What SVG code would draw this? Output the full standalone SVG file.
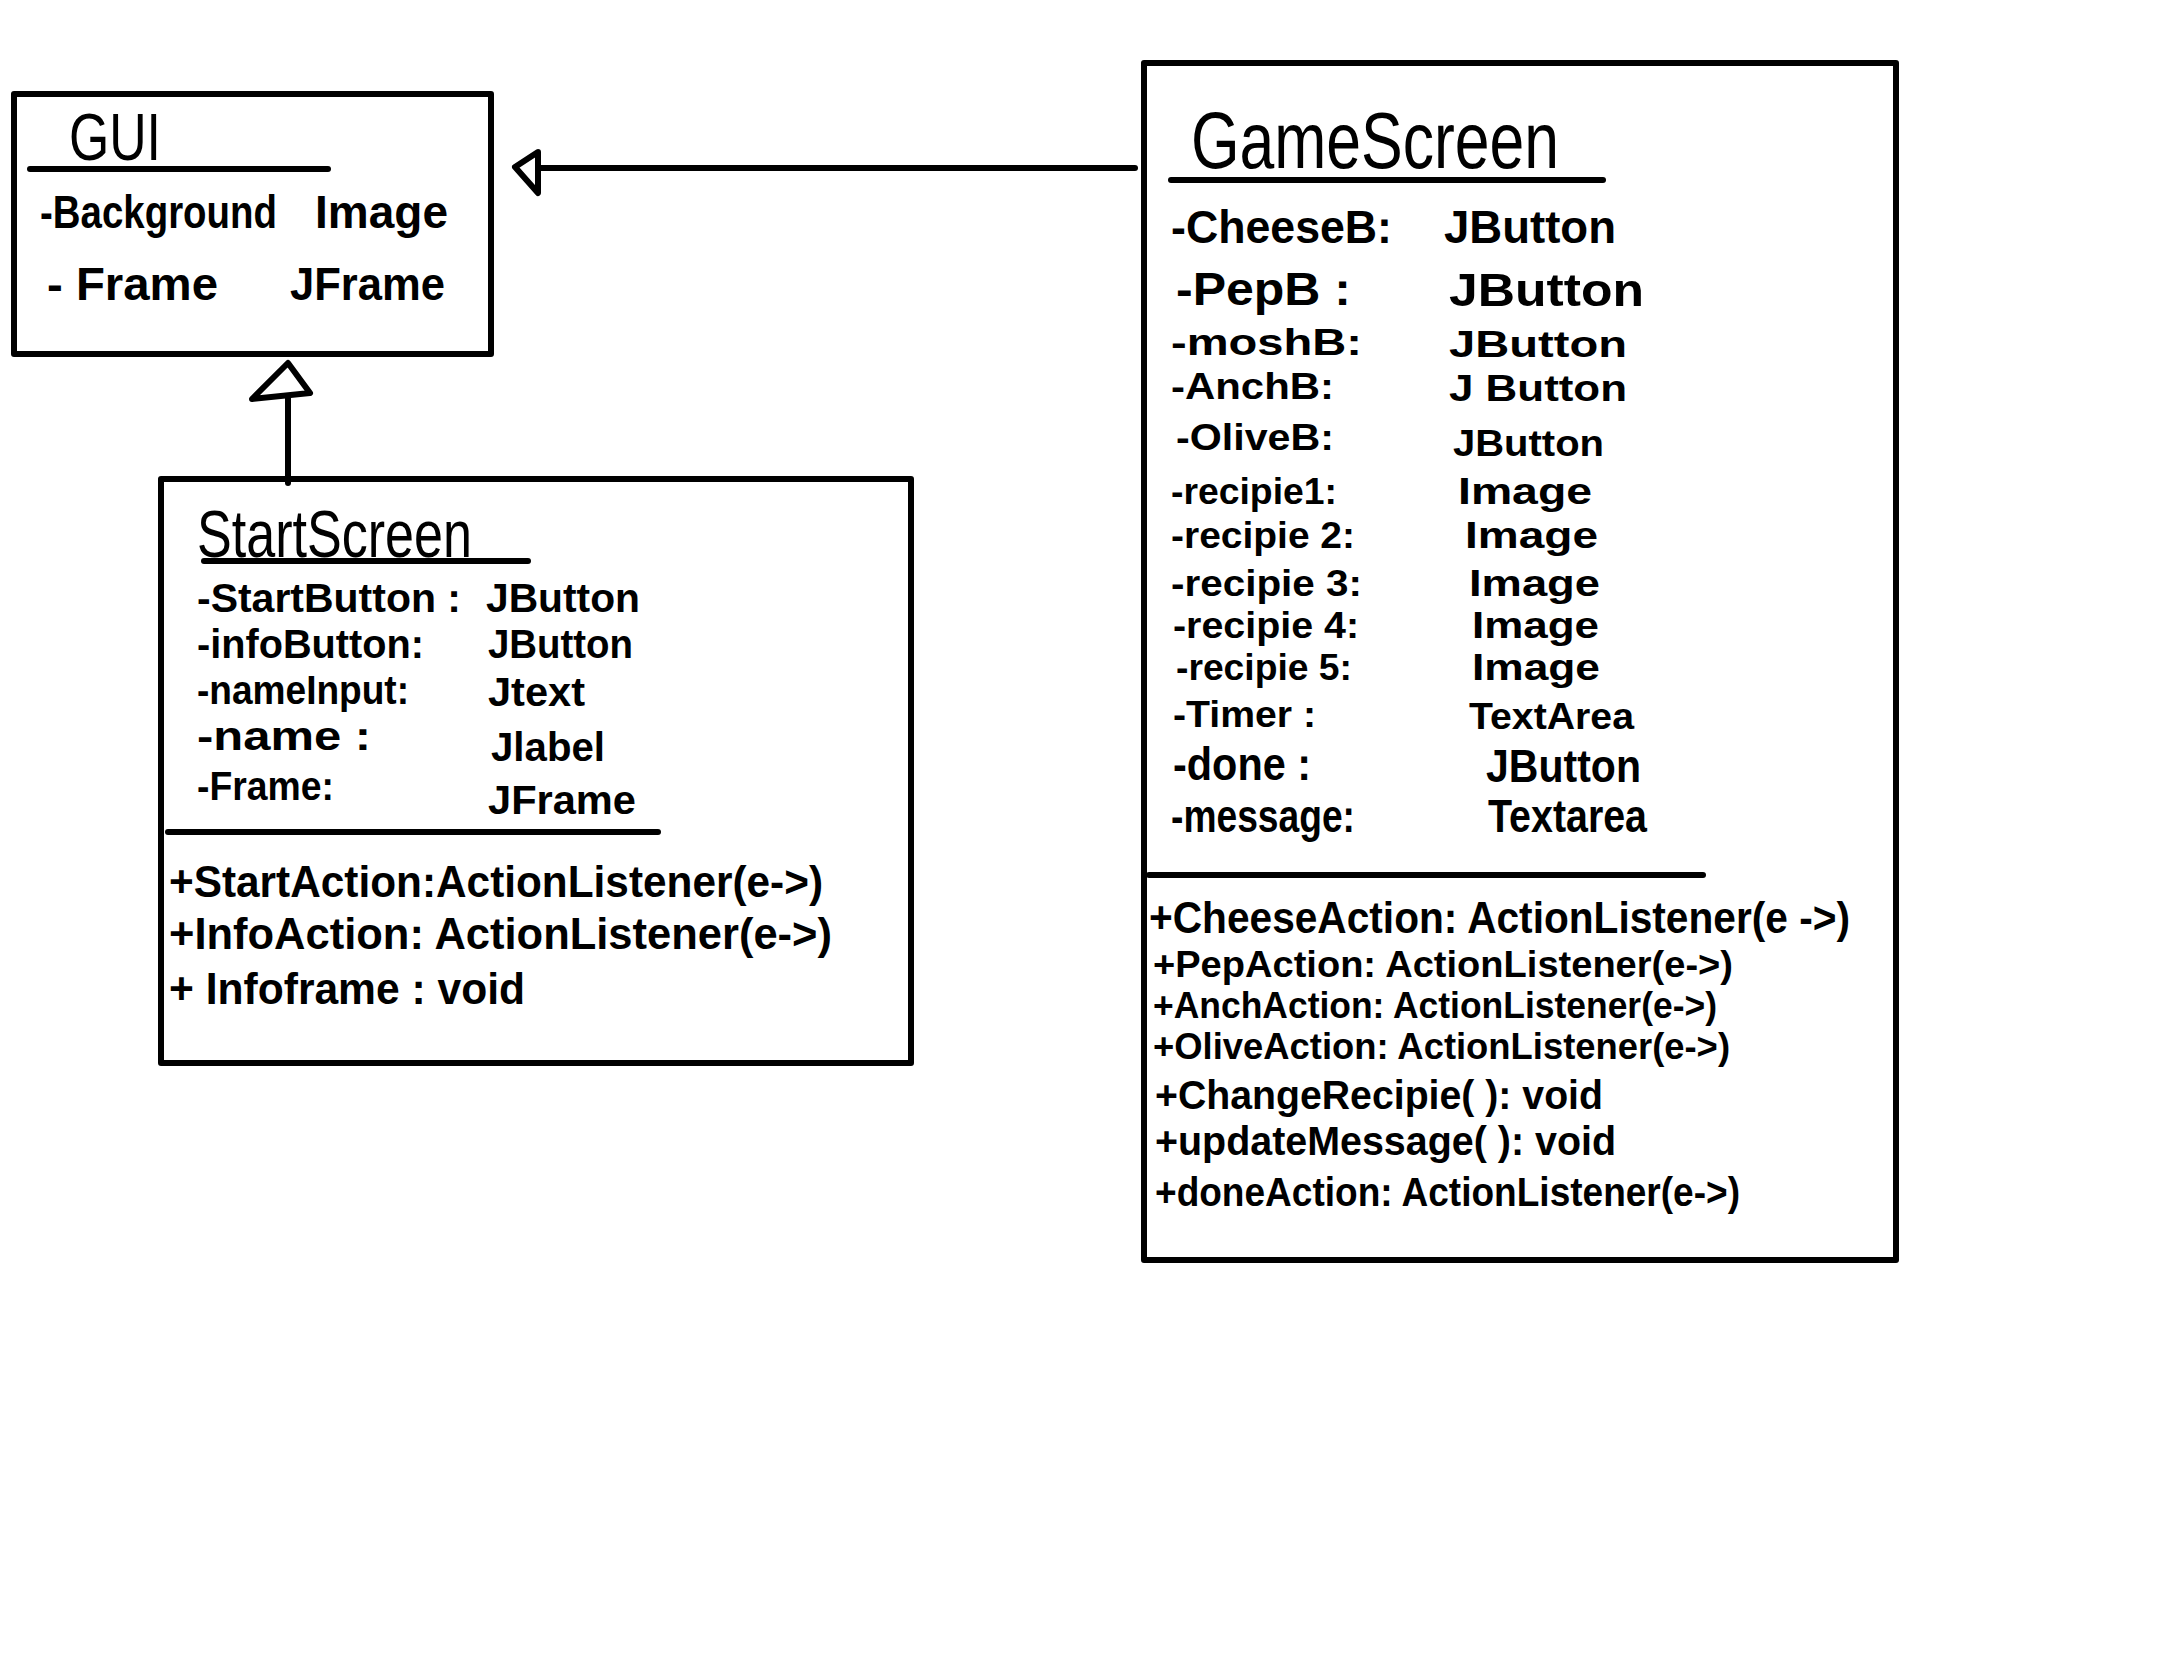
<svg xmlns="http://www.w3.org/2000/svg" width="2157" height="1668" viewBox="0 0 2157 1668">
<style>
.box{fill:none;stroke:#000;stroke-width:6;stroke-linejoin:round}
.rule{stroke:#000;stroke-width:6;stroke-linecap:round}
.conn{fill:none;stroke:#000;stroke-width:6;stroke-linecap:round;stroke-linejoin:round}
text{font-family:"Liberation Sans","DejaVu Sans",sans-serif;font-weight:bold;fill:#000}
.title{font-weight:normal;font-size:66px}
.a{font-size:46px}
.g{font-size:36px}
.m{font-size:36px}
.sa{font-size:40px}
.sm{font-size:44px}
</style>
<rect width="2157" height="1668" fill="#fff"/>
<g id="connectors">
<path class="conn" d="M1135 168 L538 168"/>
<path class="conn" d="M538 152 L515 167 L538 193 Z"/>
<path class="conn" d="M288 483 L288 396"/>
<path class="conn" d="M252 399 L288 363 L310 393 Z"/>
</g>
<g id="GUI">
<rect class="box" x="14" y="94" width="477" height="260"/>
<text class="title" x="69" y="160" textLength="92" lengthAdjust="spacingAndGlyphs">GUI</text>
<line class="rule" x1="30" y1="169" x2="328" y2="169"/>
<text class="a" x="40" y="228" textLength="237" lengthAdjust="spacingAndGlyphs">-Background</text>
<text class="a" x="315" y="228" textLength="133" lengthAdjust="spacingAndGlyphs">Image</text>
<text class="a" x="47" y="300" textLength="171" lengthAdjust="spacingAndGlyphs">- Frame</text>
<text class="a" x="290" y="300" textLength="155" lengthAdjust="spacingAndGlyphs">JFrame</text>
</g>
<g id="StartScreen">
<rect class="box" x="161" y="479" width="750" height="584"/>
<text class="title" x="197" y="557" textLength="275" lengthAdjust="spacingAndGlyphs">StartScreen</text>
<line class="rule" x1="204" y1="561" x2="528" y2="561"/>
<text class="sa" x="197" y="612" textLength="264" lengthAdjust="spacingAndGlyphs">-StartButton :</text>
<text class="sa" x="486" y="612" textLength="154" lengthAdjust="spacingAndGlyphs">JButton</text>
<text class="sa" x="197" y="658" textLength="227" lengthAdjust="spacingAndGlyphs">-infoButton:</text>
<text class="sa" x="488" y="658" textLength="145" lengthAdjust="spacingAndGlyphs">JButton</text>
<text class="sa" x="197" y="704" textLength="212" lengthAdjust="spacingAndGlyphs">-nameInput:</text>
<text class="sa" x="488" y="706" textLength="97" lengthAdjust="spacingAndGlyphs">Jtext</text>
<text class="sa" x="197" y="750" textLength="174" lengthAdjust="spacingAndGlyphs">-name  :</text>
<text class="sa" x="491" y="761" textLength="114" lengthAdjust="spacingAndGlyphs">Jlabel</text>
<text class="sa" x="197" y="800" textLength="137" lengthAdjust="spacingAndGlyphs">-Frame:</text>
<text class="sa" x="488" y="814" textLength="148" lengthAdjust="spacingAndGlyphs">JFrame</text>
<line class="rule" x1="168" y1="832" x2="658" y2="832"/>
<text class="sm" x="169" y="897" textLength="654" lengthAdjust="spacingAndGlyphs">+StartAction:ActionListener(e-&gt;)</text>
<text class="sm" x="169" y="949" textLength="663" lengthAdjust="spacingAndGlyphs">+InfoAction:  ActionListener(e-&gt;)</text>
<text class="sm" x="169" y="1004" textLength="356" lengthAdjust="spacingAndGlyphs">+ Infoframe : void</text>
</g>
<g id="GameScreen">
<rect class="box" x="1144" y="63" width="752" height="1197"/>
<text class="title" x="1191" y="168" textLength="368" lengthAdjust="spacingAndGlyphs" style="font-size:80px">GameScreen</text>
<line class="rule" x1="1171" y1="180" x2="1603" y2="180"/>
<text class="a" x="1171" y="243" textLength="221" lengthAdjust="spacingAndGlyphs">-CheeseB:</text>
<text class="a" x="1444" y="243" textLength="172" lengthAdjust="spacingAndGlyphs">JButton</text>
<text class="a" x="1176" y="305" textLength="175" lengthAdjust="spacingAndGlyphs">-PepB :</text>
<text class="a" x="1449" y="306" textLength="195" lengthAdjust="spacingAndGlyphs">JButton</text>
<text class="g" x="1171" y="355" textLength="191" lengthAdjust="spacingAndGlyphs">-moshB:</text>
<text class="g" x="1449" y="357" textLength="178" lengthAdjust="spacingAndGlyphs">JButton</text>
<text class="g" x="1171" y="399" textLength="163" lengthAdjust="spacingAndGlyphs">-AnchB:</text>
<text class="g" x="1449" y="401" textLength="178" lengthAdjust="spacingAndGlyphs">J Button</text>
<text class="g" x="1176" y="450" textLength="158" lengthAdjust="spacingAndGlyphs">-OliveB:</text>
<text class="g" x="1453" y="456" textLength="151" lengthAdjust="spacingAndGlyphs">JButton</text>
<text class="g" x="1171" y="504" textLength="166" lengthAdjust="spacingAndGlyphs">-recipie1:</text>
<text class="g" x="1458" y="504" textLength="134" lengthAdjust="spacingAndGlyphs">Image</text>
<text class="g" x="1171" y="548" textLength="184" lengthAdjust="spacingAndGlyphs">-recipie 2:</text>
<text class="g" x="1465" y="548" textLength="133" lengthAdjust="spacingAndGlyphs">Image</text>
<text class="g" x="1171" y="596" textLength="191" lengthAdjust="spacingAndGlyphs">-recipie 3:</text>
<text class="g" x="1469" y="596" textLength="131" lengthAdjust="spacingAndGlyphs">Image</text>
<text class="g" x="1173" y="638" textLength="186" lengthAdjust="spacingAndGlyphs">-recipie 4:</text>
<text class="g" x="1472" y="638" textLength="127" lengthAdjust="spacingAndGlyphs">Image</text>
<text class="g" x="1176" y="680" textLength="176" lengthAdjust="spacingAndGlyphs">-recipie 5:</text>
<text class="g" x="1472" y="680" textLength="128" lengthAdjust="spacingAndGlyphs">Image</text>
<text class="g" x="1173" y="727" textLength="143" lengthAdjust="spacingAndGlyphs">-Timer :</text>
<text class="g" x="1469" y="729" textLength="165" lengthAdjust="spacingAndGlyphs">TextArea</text>
<text class="a" x="1173" y="780" textLength="138" lengthAdjust="spacingAndGlyphs">-done :</text>
<text class="a" x="1486" y="782" textLength="155" lengthAdjust="spacingAndGlyphs">JButton</text>
<text class="a" x="1171" y="832" textLength="184" lengthAdjust="spacingAndGlyphs">-message:</text>
<text class="a" x="1488" y="832" textLength="159" lengthAdjust="spacingAndGlyphs">Textarea</text>
<line class="rule" x1="1149" y1="875" x2="1703" y2="875"/>
<text class="m" x="1149" y="933" textLength="701" lengthAdjust="spacingAndGlyphs" style="font-size:44px">+CheeseAction: ActionListener(e -&gt;)</text>
<text class="m" x="1153" y="977" textLength="580" lengthAdjust="spacingAndGlyphs">+PepAction: ActionListener(e-&gt;)</text>
<text class="m" x="1153" y="1018" textLength="564" lengthAdjust="spacingAndGlyphs">+AnchAction: ActionListener(e-&gt;)</text>
<text class="m" x="1153" y="1059" textLength="577" lengthAdjust="spacingAndGlyphs">+OliveAction: ActionListener(e-&gt;)</text>
<text class="m" x="1155" y="1109" textLength="448" lengthAdjust="spacingAndGlyphs" style="font-size:40px">+ChangeRecipie( ): void</text>
<text class="m" x="1155" y="1155" textLength="461" lengthAdjust="spacingAndGlyphs" style="font-size:40px">+updateMessage( ): void</text>
<text class="m" x="1155" y="1206" textLength="585" lengthAdjust="spacingAndGlyphs" style="font-size:40px">+doneAction: ActionListener(e-&gt;)</text>
</g>
</svg>
